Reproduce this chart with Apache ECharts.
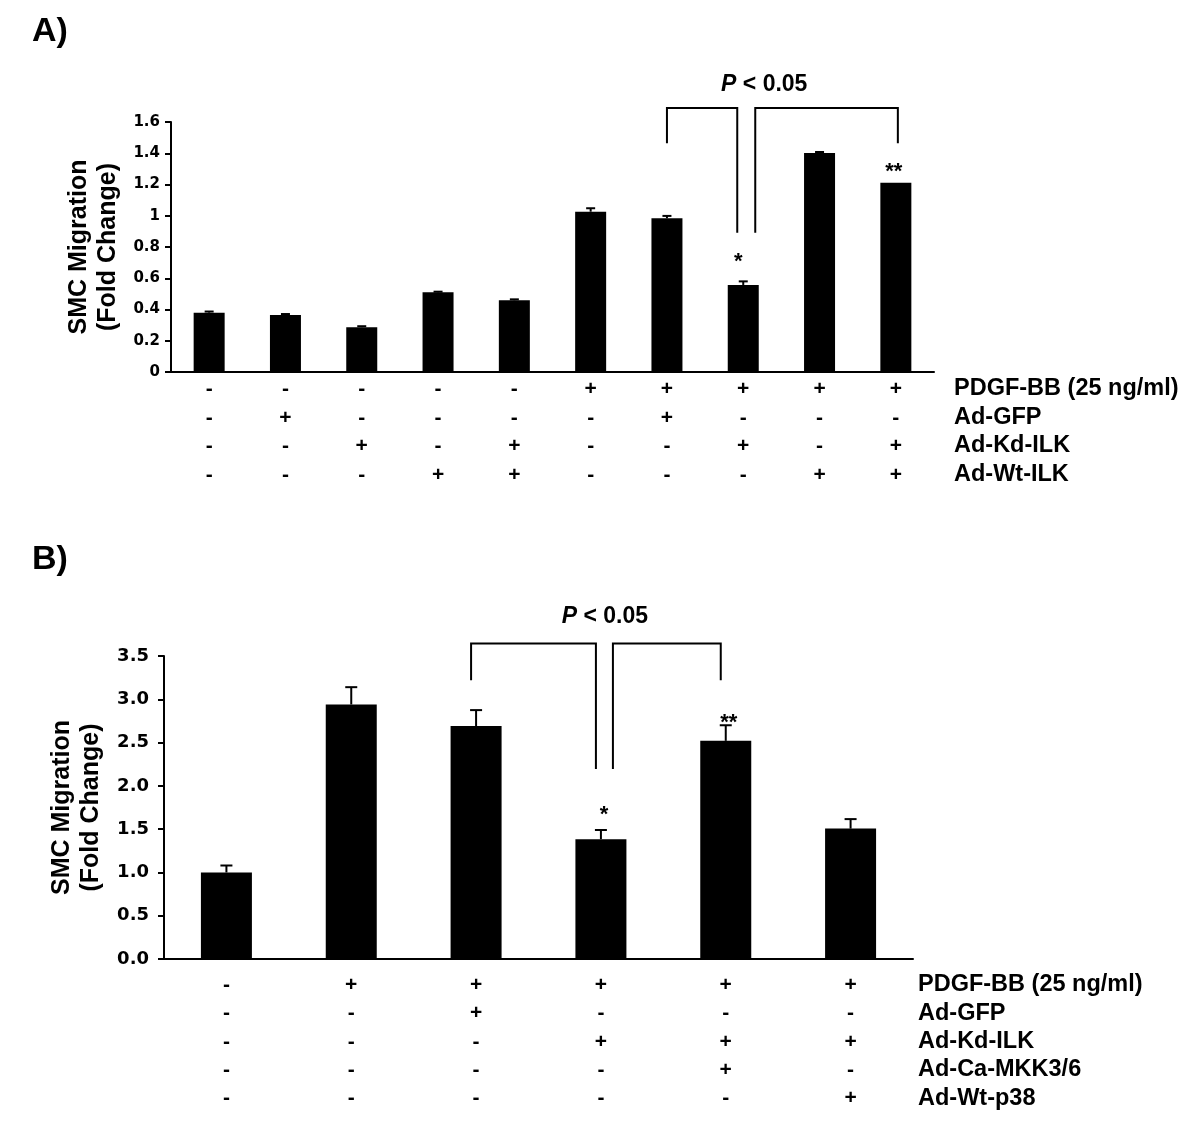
<!DOCTYPE html>
<html><head><meta charset="utf-8">
<script src="https://cdn.jsdelivr.net/npm/echarts@6/dist/echarts.min.js"></script>
<style>html,body{margin:0;padding:0;background:#fff}#c{width:1200px;height:1130px}</style>
</head><body><div id="c"></div>
<script>
// ---------- data: panel A ----------
const categoriesA = ['A1','A2','A3','A4','A5','A6','A7','A8','A9','A10'];
const valuesA = [0.380, 0.365, 0.287, 0.510, 0.459, 1.026, 0.984, 0.557, 1.402, 1.211];
const errorsA = [0.007, 0.006, 0.006, 0.004, 0.006, 0.022, 0.015, 0.023, 0.006, 0];
const rowLabelsA = ['PDGF-BB (25 ng/ml)', 'Ad-GFP', 'Ad-Kd-ILK', 'Ad-Wt-ILK'];
const pdgfA  = ['-','-','-','-','-','+','+','+','+','+'];
const gfpA   = ['-','+','-','-','-','-','+','-','-','-'];
const kdIlkA = ['-','-','+','-','+','-','-','+','-','+'];
const wtIlkA = ['-','-','-','+','+','-','-','-','+','+'];
const yTicksA = {min: 0, max: 1.6, interval: 0.2};

// ---------- data: panel B ----------
const categoriesB = ['B1','B2','B3','B4','B5','B6'];
const valuesB = [1.00, 2.94, 2.69, 1.384, 2.52, 1.506];
const errorsB = [0.08, 0.20, 0.185, 0.106, 0.18, 0.11];
const rowLabelsB = ['PDGF-BB (25 ng/ml)', 'Ad-GFP', 'Ad-Kd-ILK', 'Ad-Ca-MKK3/6', 'Ad-Wt-p38'];
const pdgfB  = ['-','+','+','+','+','+'];
const gfpB   = ['-','-','+','-','-','-'];
const kdIlkB = ['-','-','-','+','+','+'];
const caMkkB = ['-','-','-','-','+','-'];
const wtP38B = ['-','-','-','-','-','+'];
const yTicksB = {min: 0, max: 3.5, interval: 0.5};

// ---------- annotations (in data units, bar index + px nudge) ----------
const bracketsA = [
  {from: 6, fromDx: 0, to: 7, toDx: -6, top: 1.69, botL: 1.464, botR: 0.892},
  {from: 7, fromDx: 12, to: 9, toDx: 2, top: 1.69, botL: 0.892, botR: 1.464}
];
const bracketsB = [
  {from: 2, fromDx: -5, to: 3, toDx: -5, top: 3.645, botL: 3.22, botR: 2.195},
  {from: 3, fromDx: 12, to: 4, toDx: -5, top: 3.645, botL: 2.195, botR: 3.22}
];
const textsA = [
  {bar: 7, dx: 21, y: 1.842, text: '{i|P} < 0.05', size: 23},
  {bar: 7, dx: -5, y: 0.704, text: '*', size: 22},
  {bar: 9, dx: -2, y: 1.279, text: '**', size: 22}
];
const textsB = [
  {bar: 3, dx: 4, y: 3.951, text: '{i|P} < 0.05', size: 23},
  {bar: 3, dx: 3, y: 1.664, text: '*', size: 22},
  {bar: 4, dx: 3, y: 2.725, text: '**', size: 22}
];

const chart = echarts.init(document.getElementById('c'), null, {renderer: 'canvas'});
const FONT = 'Arial, "Liberation Sans", sans-serif';

function errorSeries(values, errors, xi, capW) {
  return {
    type: 'custom', xAxisIndex: xi, yAxisIndex: xi, silent: true, z: 3,
    data: values.map((v, i) => [i, v, errors[i]]),
    renderItem: function (params, api) {
      const i = api.value(0), v = api.value(1), e = api.value(2);
      if (!e) return null;
      const base = api.coord([i, v]);
      const top = api.coord([i, v + e]);
      const st = {stroke: '#000', lineWidth: 2};
      return {type: 'group', children: [
        {type: 'line', shape: {x1: base[0], y1: base[1], x2: top[0], y2: top[1]}, style: st},
        {type: 'line', shape: {x1: top[0] - capW / 2, y1: top[1], x2: top[0] + capW / 2, y2: top[1]}, style: st}
      ]};
    }
  };
}
function bracketSeries(defs, xi) {
  return {
    type: 'custom', xAxisIndex: xi, yAxisIndex: xi, silent: true, z: 4,
    data: defs.map(d => [d.from, d.top]),
    renderItem: function (params, api) {
      const d = defs[params.dataIndex];
      const x1 = api.coord([d.from, d.top])[0] + d.fromDx;
      const x2 = api.coord([d.to, d.top])[0] + d.toDx;
      const yt = api.coord([d.from, d.top])[1];
      const yl = api.coord([d.from, d.botL])[1];
      const yr = api.coord([d.to, d.botR])[1];
      return {type: 'polyline', shape: {points: [[x1, yl], [x1, yt], [x2, yt], [x2, yr]]},
        style: {stroke: '#000', lineWidth: 2, fill: null}};
    }
  };
}
function textSeries(defs, xi) {
  return {
    type: 'custom', xAxisIndex: xi, yAxisIndex: xi, silent: true, z: 5,
    data: defs.map(d => [d.bar, d.y]),
    renderItem: function (params, api) {
      const d = defs[params.dataIndex];
      const p = api.coord([d.bar, d.y]);
      return {type: 'text', x: p[0] + d.dx, y: p[1], style: {
        text: d.text, fill: '#000', align: 'center', verticalAlign: 'middle',
        fontFamily: FONT, fontWeight: 'bold', fontSize: d.size,
        rich: {i: {fontStyle: 'italic', fontWeight: 'bold', fontSize: d.size, fontFamily: FONT, fill: '#000'}}
      }};
    }
  };
}
function xAxisFor(cats, rows, gi, margin, lh) {
  return {
    type: 'category', gridIndex: gi, data: cats,
    axisLine: {show: true, lineStyle: {color: '#000', width: 2}},
    axisTick: {show: false},
    axisLabel: {
      interval: 0, margin: margin, color: '#000', fontFamily: FONT, fontWeight: 'bold',
      fontSize: 21, lineHeight: lh,
      formatter: function (val, idx) { return rows.map(r => r[idx]).join('\n'); }
    },
    splitLine: {show: false}
  };
}
function yAxisFor(t, gi, labelSize, margin, nameGap, fmt) {
  return {
    type: 'value', gridIndex: gi, min: t.min, max: t.max, interval: t.interval,
    name: 'SMC Migration\n(Fold Change)', nameLocation: 'middle', nameRotate: 90, nameGap: nameGap,
    nameTextStyle: {color: '#000', fontFamily: FONT, fontWeight: 'bold', fontSize: 25, lineHeight: 29},
    axisLine: {show: true, lineStyle: {color: '#000', width: 2}},
    axisTick: {show: true, length: 6, lineStyle: {color: '#000', width: 2}},
    axisLabel: {color: '#000', fontFamily: '"DejaVu Sans", sans-serif', fontWeight: 'bold',
      fontSize: labelSize, margin: margin, formatter: fmt},
    splitLine: {show: false}
  };
}

const graphics = [];
graphics.push({type: 'text', left: 32, top: 15, style: {text: 'A)', font: 'bold 34px ' + FONT, fill: '#000'}});
graphics.push({type: 'text', left: 32, top: 543, style: {text: 'B)', font: 'bold 34px ' + FONT, fill: '#000'}});
rowLabelsA.forEach((t, i) => graphics.push({type: 'text', x: 954, y: 388.5 + i * 28.6,
  style: {text: t, font: 'bold 23.5px ' + FONT, fill: '#000', verticalAlign: 'middle', align: 'left'}}));
rowLabelsB.forEach((t, i) => graphics.push({type: 'text', x: 918, y: 985 + i * 28.3,
  style: {text: t, font: 'bold 23.5px ' + FONT, fill: '#000', verticalAlign: 'middle', align: 'left'}}));

chart.setOption({
  animation: false,
  backgroundColor: '#fff',
  grid: [
    {left: 171, top: 122, width: 763, height: 250, containLabel: false, outerBoundsMode: 'none'},
    {left: 164, top: 656, width: 749, height: 303, containLabel: false, outerBoundsMode: 'none'}
  ],
  xAxis: [
    xAxisFor(categoriesA, [pdgfA, gfpA, kdIlkA, wtIlkA], 0, 3, 28.6),
    xAxisFor(categoriesB, [pdgfB, gfpB, kdIlkB, caMkkB, wtP38B], 1, 12, 28.3)
  ],
  yAxis: [
    yAxisFor(yTicksA, 0, 15, 11, 47, v => String(+v.toFixed(1))),
    yAxisFor(yTicksB, 1, 18, 15, 58, v => v.toFixed(1))
  ],
  series: [
    {type: 'bar', xAxisIndex: 0, yAxisIndex: 0, data: valuesA, barWidth: 31,
      itemStyle: {color: '#000'}, silent: true, z: 2},
    errorSeries(valuesA, errorsA, 0, 9),
    bracketSeries(bracketsA, 0),
    textSeries(textsA, 0),
    {type: 'bar', xAxisIndex: 1, yAxisIndex: 1, data: valuesB, barWidth: 51,
      itemStyle: {color: '#000'}, silent: true, z: 2},
    errorSeries(valuesB, errorsB, 1, 12),
    bracketSeries(bracketsB, 1),
    textSeries(textsB, 1)
  ],
  graphic: graphics
});
</script>
</body></html>
